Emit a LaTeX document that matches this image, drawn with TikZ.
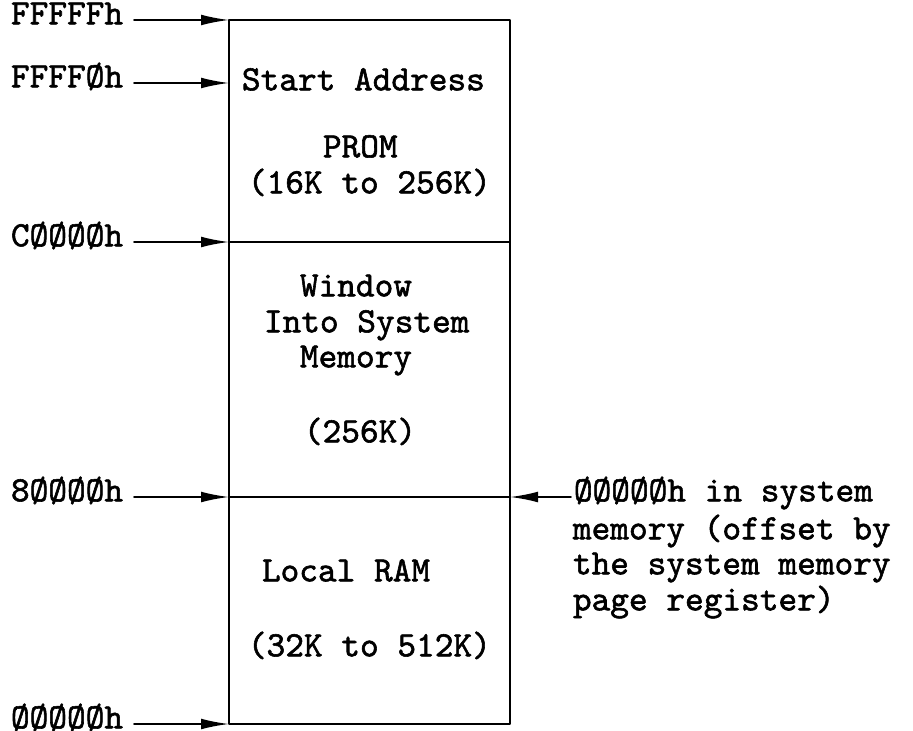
\documentclass[tikz,border=0pt]{standalone}
\usepackage{fontspec}
\setmonofont[FakeBold=1.6]{lmmono10-regular.otf}
\usetikzlibrary{arrows.meta,positioning}
\tikzstyle{every node}=[font=\ttfamily\fontsize{17.8}{20}\selectfont, inner sep=0pt]
\tikzstyle{every path}=[line width=0.9pt,line cap=round,line join=round]
\tikzset{
  addr/.style={anchor=mid east, inner xsep=5pt},
  txt/.style={anchor=mid west},
  ptr/.style={-{Latex[length=14pt,width=5.4pt]}}
}

\begin{document}
\begin{tikzpicture}[x=0.5pt,y=-0.5pt]
% Local memory map
	\newcommand\mmLeft{229} %left side of the map
	\newcommand\mmRight{510} %right side of the map
	\newcommand\mmTop{20} %top of the map (FFFFFh)
	\newcommand\mmBot{724} %bottom of the map (00000h)
	\newcommand\mmAddrX{134} %right end of the address labels
	\useasboundingbox (0,0) rectangle (913,731);
	%Map outline
	\coordinate (MLT) at (\mmLeft,\mmTop); %MLT= map left top
	\coordinate (MRB) at (\mmRight,\mmBot); %MRB= map right bottom
	\coordinate (MLB) at (\mmLeft,\mmBot); %MLB= map left bottom
	\draw (MLT) rectangle (MRB);
	\coordinate (MSA) at (\mmLeft,83); %MSA= start address
	% Dividers
	\draw (\mmLeft,242) coordinate (D1L) -- (\mmRight,242) coordinate (D1R); % D1 is PROM / window
	\draw (\mmLeft,497) coordinate (D2L) -- (\mmRight,497) coordinate (D2R); % D2 is window / local RAM
	%Addresses
	\node[addr] (AFFFFF) at (\mmAddrX,\mmTop) {FFFFFh};
	\node[addr] (AFFFF0) at (\mmAddrX,83) {FFFFØh};
	\node[addr] (AC0000) at (\mmAddrX,242) {CØØØØh};
	\node[addr] (A80000) at (\mmAddrX,497) {8ØØØØh};
	\node[addr] (A00000) at (\mmAddrX,\mmBot) {ØØØØØh};
	\draw[ptr] (AFFFFF.mid east) -- (MLT);
	\draw[ptr] (AFFFF0.mid east) -- (MSA);
	\draw[ptr] (AC0000.mid east) -- (D1L);
	\draw[ptr] (A80000.mid east) -- (D2L);
	\draw[ptr] (A00000.mid east) -- (MLB);
	%PROM
	\node[txt] (PStart) at (241,86) {Start Address};
	\node[txt] (PName) at (322,153) {PROM};
	\node[txt] (PSize) at (247,189) {(16K to 256K)};
	%Window
	\node[txt] (WName1) at (299,292) {Window};
	\node[txt] (WName2) at (263,328) {Into System};
	\node[txt] (WName3) at (299,363) {Memory};
	\node[txt] (WSize) at (303,438) {(256K)};
	%Local RAM
	\node[txt] (LName) at (261,577) {Local RAM};
	\node[txt] (LSize) at (247,652) {(32K to 512K)};
	%System memory offset
	\node[txt, inner xsep=1pt] (SOff1) at (571,497) {ØØØØØh in system};
	\node[txt] (SOff2) at (572,535) {memory (offset by};
	\node[txt] (SOff3) at (572,570) {the system memory};
	\node[txt] (SOff4) at (572,606) {page register)};
	\draw[ptr] (SOff1.mid west) -- (D2R);
\end{tikzpicture}
\end{document}
